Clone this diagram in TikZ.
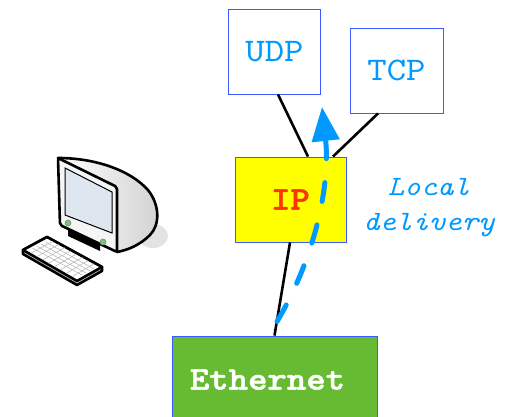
\documentclass[tikz,border=0pt]{standalone}
\usepackage{fontspec}
\newfontfamily\cour{lmmono10-regular.otf}[FakeStretch=1.12,
  BoldFont=lmmonolt10-bold.otf, BoldFeatures={FakeBold=1.6},
  ItalicFont=lmmono10-italic.otf]
\usetikzlibrary{arrows.meta,calc}
\definecolor{boxline}{RGB}{60,90,255}
\definecolor{layerblue}{RGB}{0,153,255}
\definecolor{ipyellow}{RGB}{255,255,0}
\definecolor{ipred}{RGB}{255,51,0}
\definecolor{ethgreen}{RGB}{102,187,51}
\definecolor{screenblue}{RGB}{222,230,240}
\definecolor{btngreen}{RGB}{120,200,120}
\tikzset{
  layer/.style={draw=boxline, line width=0.9pt, inner sep=0pt, font=\cour\fontsize{33}{33}\selectfont},
  boldlayer/.style={layer, font=\cour\bfseries\fontsize{33}{33}\selectfont},
  link/.style={line width=2.6pt, black},
  flow/.style={layerblue, line width=5pt, line cap=round, dash pattern=on 19pt off 24pt,
               -{Triangle[length=34pt,width=27pt]}},
  outline/.style={line width=2.6pt, line join=round, black},
}
\begin{document}
\begin{tikzpicture}[x=1pt,y=-1pt]
\useasboundingbox (0,0) rectangle (515,417);

% protocol layers
\node[layer, minimum width=92pt, minimum height=85pt, text=layerblue] (udp) at (274.5,51.5) {UDP};
\node[layer, minimum width=93pt, minimum height=85pt, text=layerblue] (tcp) at (396.5,70.5) {TCP};
\node[boldlayer, minimum width=111pt, minimum height=85pt, fill=ipyellow, text=ipred] (ip) at (290.5,199.5) {IP};
\node[boldlayer, minimum width=205pt, minimum height=100pt, fill=ethgreen, text=white,
      text depth=13pt] (eth) at (274.5,386) {Ethernet\hspace*{14pt}};

% links between layers
\draw[link] ([xshift=3.5pt]udp.south) -- ([xshift=17.5pt]ip.north);
\draw[link] ([xshift=-18.5pt]tcp.south) -- ([xshift=42.5pt]ip.north);
\draw[link] ([xshift=-0.5pt]ip.south) -- (eth.north);

% upward delivery path
\coordinate (start) at ([xshift=2.5pt,yshift=14pt]eth.north);
\coordinate (top) at (322,107);
\draw[flow] (start) .. controls (318,252) and (330,180) .. (top);

\node[text=layerblue, align=center, font=\cour\itshape\fontsize{28}{35}\selectfont] (local) at (429,208) {Local\\delivery};

% workstation icon
\fill[gray!22] (153,236) ellipse (15pt and 12pt);
% keyboard
\draw[outline, fill=gray!40] (23,250) -- (47,237) -- (102,267) -- (102,271) -- (77,285) -- (23,254) -- cycle;
\draw[outline, fill=white] (23,250) -- (47,237) -- (102,267) -- (77,281) -- cycle;
\begin{scope}[gray!60, line width=0.5pt]
  \foreach \t in {0.2,0.4,0.6,0.8}
    \draw ($(28,250)!\t!(50,240)$) -- ($(78,277)!\t!(98,267)$);
  \foreach \t in {0.111,0.222,0.333,0.444,0.555,0.666,0.777,0.888}
    \draw ($(25,250)!\t!(78,280)$) -- ($(47,238)!\t!(100,267)$);
\end{scope}
% stand
\fill[black] (68,228) -- (100,244) -- (100,251) -- (68,236) -- cycle;
% cabinet
\draw[outline, left color=white, right color=gray!35] (58,158)
  .. controls (95,158) and (130,170) .. (148,190)
  .. controls (160,205) and (160,225) .. (150,235)
  .. controls (140,245) and (128,250) .. (117,252) -- cycle;
\draw[outline, fill=gray!8, rounded corners=2pt] (58,158) -- (117,187) -- (117,252) -- (60,225) -- cycle;
\draw[black, line width=1pt, fill=screenblue] (65,168) -- (112,192) -- (112,233) -- (65,215) -- cycle;
\draw[gray, line width=0.6pt, fill=btngreen] (68,223) circle (3pt);
\draw[gray, line width=0.6pt, fill=btngreen] (103,242) circle (3pt);
\end{tikzpicture}
\end{document}
